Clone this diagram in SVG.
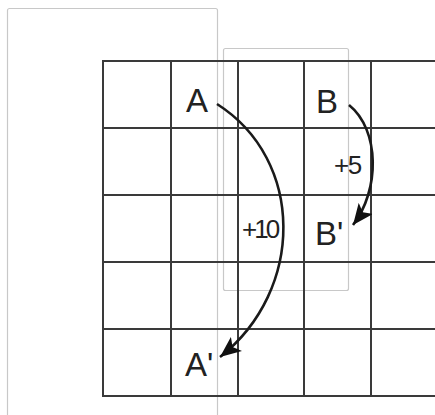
<svg xmlns="http://www.w3.org/2000/svg" width="435" height="415" viewBox="0 0 435 415">
<style>
.frame{fill:none;stroke:#c8c8c8;stroke-width:1.2}
.grid line{stroke:#3a3a3a;stroke-width:2}
.lbl{font-family:"Liberation Sans",Arial,sans-serif;font-size:33px;fill:#222}
.num{font-family:"Liberation Sans",Arial,sans-serif;font-size:26px;fill:#222;letter-spacing:-3px}
.arc{fill:none;stroke:#1a1a1a;stroke-width:2.6}
</style>
<defs>
<marker id="ah" markerUnits="userSpaceOnUse" markerWidth="22" markerHeight="18" viewBox="0 0 22 18" refX="21" refY="9" orient="auto">
<path d="M0,0 L21,9 L0,18 L5,9 z" fill="#111"/>
</marker>
</defs>
<rect class="frame" x="7.5" y="8.5" width="210" height="420" rx="2"/>
<rect class="frame" x="223.5" y="48.5" width="125" height="242" rx="2"/>
<g id="grid" class="grid">
<line x1="103" y1="61" x2="103" y2="396"/>
<line x1="171" y1="61" x2="171" y2="396"/>
<line x1="238" y1="61" x2="238" y2="396"/>
<line x1="304" y1="61" x2="304" y2="396"/>
<line x1="371" y1="61" x2="371" y2="396"/>
<line x1="102" y1="61" x2="435" y2="61"/>
<line x1="102" y1="128" x2="435" y2="128"/>
<line x1="102" y1="195" x2="435" y2="195"/>
<line x1="102" y1="262" x2="435" y2="262"/>
<line x1="102" y1="329" x2="435" y2="329"/>
<line x1="102" y1="396" x2="435" y2="396"/>
</g>
<g id="A"><text class="lbl" x="186" y="112">A</text></g>
<g id="B"><text class="lbl" x="316" y="113">B</text></g>
<g id="Bp"><text class="lbl" x="315" y="245">B'</text></g>
<g id="Ap"><text class="lbl" x="185" y="376">A'</text></g>
<g id="connectors">
<path class="arc" d="M217,104 C305,160 305,290 220,357" marker-end="url(#ah)"/>
<path class="arc" d="M349,105 C380,130 380,190 353,225" marker-end="url(#ah)"/>
<text class="num" x="242" y="238">+10</text>
<text class="num" x="334" y="174" style="letter-spacing:-1.5px">+5</text>
</g>
</svg>
